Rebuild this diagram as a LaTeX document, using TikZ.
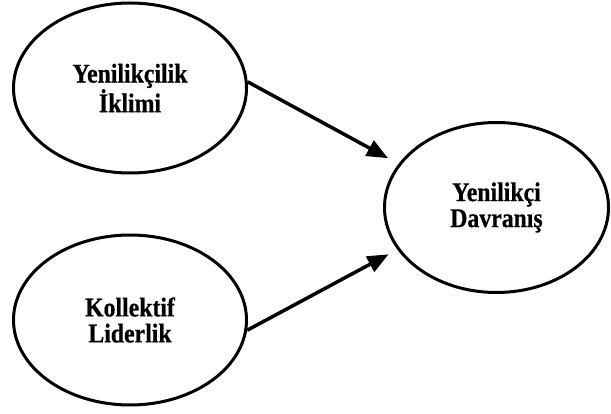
\documentclass[tikz,border=0pt]{standalone}
\usepackage{fontspec}
\setmainfont[FakeStretch=0.88,BoldFeatures={FakeBold=0.6}]{Liberation Serif}
\usepackage{tikz}
\usetikzlibrary{arrows.meta,shapes.geometric}

\begin{document}
\begin{tikzpicture}[x=1pt,y=-1pt,
  font=\bfseries\fontsize{27}{26}\selectfont,
  oval/.style={ellipse,draw,line width=3pt,align=center,inner sep=0pt,minimum height=170pt},
  link/.style={-{Triangle[length=21pt,width=17pt]},line width=3.5pt}]
\useasboundingbox (0,0) rectangle (611,414);
\node[oval,minimum width=233pt] (ik) at (130,88) {Yenilikçilik\\İklimi};
\node[oval,minimum width=233pt] (kl) at (130,320) {Kollektif\\Liderlik};
\node[oval,minimum width=224pt] (yd) at (496.5,207.5) {Yenilikçi\\Davranış};
\draw[link,shorten >=12pt] (ik.3) -- (yd.156);
\draw[link,shorten >=10pt] (kl.-5) -- (yd.203);
\end{tikzpicture}
\end{document}
